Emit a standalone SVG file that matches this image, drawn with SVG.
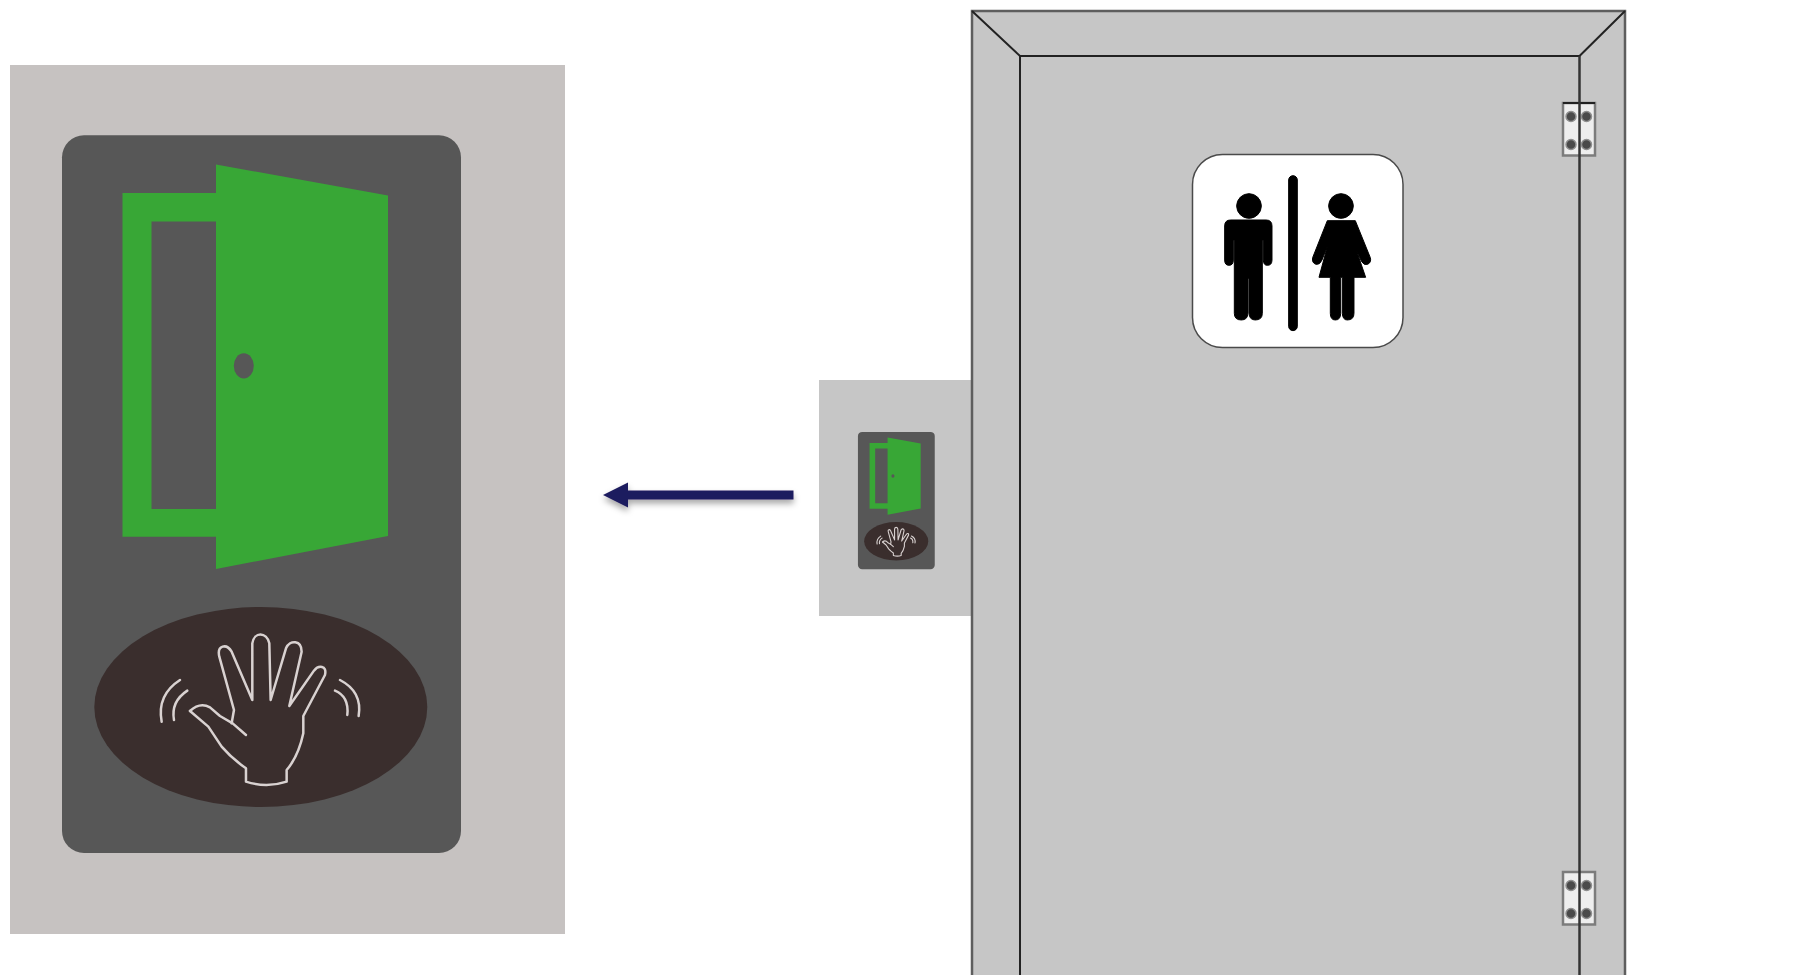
<svg xmlns="http://www.w3.org/2000/svg" width="1795" height="975" viewBox="0 0 1795 975">
<style>
.green{fill:#38a736}
.plate{fill:#575757}
.oval{fill:#3a2e2d}
.hand{fill:none;stroke:#d9d2d1;stroke-linecap:round;stroke-linejoin:round}
.leaf{fill:#c6c6c6}
.outer{fill:none;stroke:#5e5e5e;stroke-width:2.500}
.inner{fill:none;stroke:#222;stroke-width:2}
.pict{fill:#000;stroke:#000;stroke-width:3;stroke-linejoin:round}
.hinge-plate{fill:#eeeeee;stroke:#7c7c7c;stroke-width:2.500}
.screw{fill:#4a4a4a;stroke:#8f8f8f;stroke-width:1.500}
</style>
<defs>
<filter id="shadow" filterUnits="userSpaceOnUse" x="585" y="465" width="225" height="65">
<feDropShadow dx="0" dy="4" stdDeviation="3" flood-color="#000" flood-opacity="0.35"/>
</filter>
<marker id="head" markerUnits="userSpaceOnUse" markerWidth="26" markerHeight="26" refX="1" refY="13" orient="auto" viewBox="0 0 26 26">
<polygon points="0,0.500 25,13 0,25.500" fill="#1f1a5e"/>
</marker>
<g id="sign-art">
<rect class="plate" x="62" y="135.300" width="399" height="717.700" rx="22"/>
<path class="green" fill-rule="evenodd" d="M122.500,193H216V164.400L388,195.600V536L216,569V536.700H122.500ZM151.500,221.600V509H216V221.600Z"/>
<ellipse class="oval" cx="260.800" cy="707" rx="166.500" ry="100"/>
<g class="hand" transform="translate(40,580) scale(0.3333)">
<path d="M450,393 Q480,365 510,382 L540,408 L578,430 L618,465"/>
<path d="M450,393 L505,440 L545,500 Q575,535 618,565 V605 Q680,625 740,605 V570 Q775,530 790,460 V408 L855,285 C862,255 835,255 822,272 L748,378 L785,215 C785,180 750,178 738,205 L692,360 L688,190 C680,155 642,155 637,190 V360 L575,215 C560,190 530,195 538,230 L582,390 L575,430"/>
<path d="M365,425 Q350,345 420,300"/>
<path d="M402,420 Q392,365 442,332"/>
<path d="M885,332 Q928,350 922,405"/>
<path d="M900,300 Q968,335 956,408"/>
</g>
</g>
<g id="hinge-art">
<rect class="hinge-plate" x="1563" y="0" width="32" height="52.500"/>
<circle class="screw" cx="1571" cy="13.500" r="5"/>
<circle class="screw" cx="1586.500" cy="13.500" r="5"/>
<circle class="screw" cx="1571" cy="41.500" r="5"/>
<circle class="screw" cx="1586.500" cy="41.500" r="5"/>
</g>
</defs>

<g id="enlarged-sign">
<rect x="10" y="65" width="555" height="869" fill="#c6c2c1"/>
<use href="#sign-art" stroke-width="7.500"/>
<ellipse cx="243.800" cy="365.800" rx="10" ry="12.600" class="plate"/>
</g>

<g id="connectors">
<g filter="url(#shadow)">
<line x1="793.500" y1="495" x2="627" y2="495" stroke="#1f1a5e" stroke-width="9" marker-end="url(#head)"/>
</g>
</g>

<g id="wall-sensor">
<rect x="819" y="380" width="153" height="236" fill="#c6c6c6"/>
<g transform="translate(846,406) scale(0.1925,0.1913)">
<use href="#sign-art" stroke-width="17"/>
<ellipse cx="243.800" cy="365.800" rx="8" ry="9" class="plate"/>
</g>
</g>

<g id="door">
<path class="leaf" d="M972,11H1625V975H972Z"/>
<path class="outer" d="M972,975V11H1625V975"/>
<path class="inner" d="M1020,975V56H1579.500M972,11L1020,56M1625,11L1579.500,56"/>
</g>

<g id="restroom-sign">
<rect x="1192.500" y="154.500" width="210.500" height="193" rx="30" fill="#fff" stroke="#4a4a4a" stroke-width="1.500"/>
<g transform="translate(1180,145) scale(0.3333)" class="pict">
<circle cx="207" cy="183" r="37"/>
<path d="M152,225H258Q276,225 276,243V345Q276,361 262,361Q250,361 250,345V285H247V505Q247,525 226,525Q208,525 207,505V400H204V505Q203,525 184,525Q163,525 163,505V285H160V345Q160,361 147,361Q134,361 134,345V243Q134,225 152,225Z"/>
<rect x="326" y="92" width="26" height="465" rx="13"/>
<circle cx="483" cy="183" r="37"/>
<path d="M442,227H526L571,338Q575,352 563,358Q552,362 545,350L530,318L557,397H522V505Q522,525 502,525Q488,525 487,505V397H482V505Q482,525 466,525Q451,525 451,505V397H417L442,305L426,345Q420,360 408,358Q395,354 398,338Z"/>
</g>
</g>

<g id="hinge-top">
<use href="#hinge-art" y="103"/>
<line x1="1563" y1="103" x2="1595" y2="103" stroke="#222" stroke-width="2"/>
</g>
<g id="hinge-bottom">
<use href="#hinge-art" y="872"/>
</g>
<line id="door-edge" x1="1579.500" y1="56" x2="1579.500" y2="975" stroke="#333" stroke-width="2.500"/>
</svg>
